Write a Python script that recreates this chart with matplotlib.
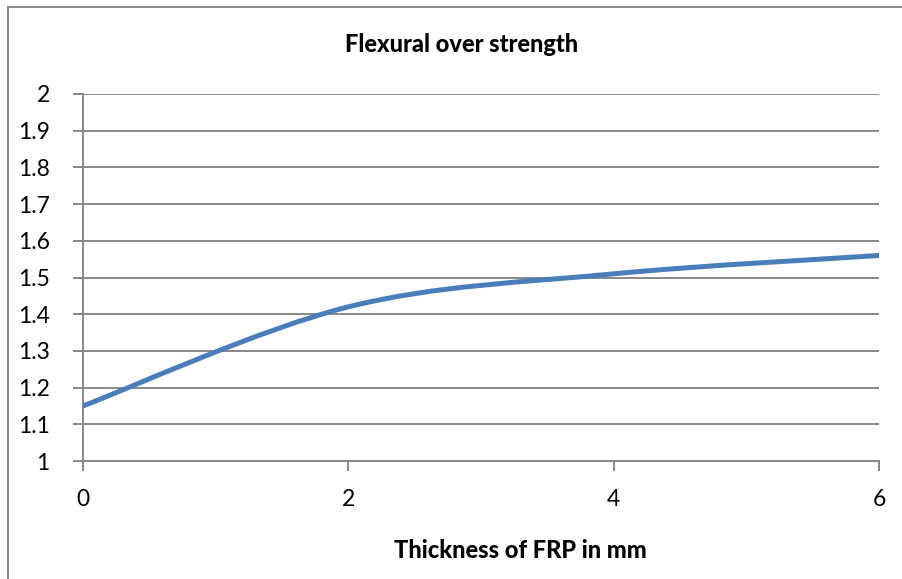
import numpy as np
import matplotlib
matplotlib.use("Agg")
from matplotlib import pyplot as plt
from matplotlib.path import Path
from matplotlib.patches import PathPatch
from matplotlib.lines import Line2D

# data
thickness = [0, 2, 4, 6]
strength = [1.15, 1.42, 1.51, 1.56]
xticks = [0, 2, 4, 6]
yticks = [1, 1.1, 1.2, 1.3, 1.4, 1.5, 1.6, 1.7, 1.8, 1.9, 2]

plt.rcParams['font.family'] = ['Lato', 'DejaVu Sans']

fig = plt.figure(figsize=(9.02, 5.79), dpi=100)
ax = fig.add_axes([83/902, 1-461/579, (879-83)/902, (461-94)/579])

# smoothed line like the spreadsheet one (bezier through the points)
pts = np.column_stack([thickness, strength]).astype(float)
n = len(pts)
verts = [pts[0]]
codes = [Path.MOVETO]
for i in range(n-1):
    p_prev = pts[max(i-1, 0)]
    p0 = pts[i]
    p1 = pts[i+1]
    p_next = pts[min(i+2, n-1)]
    c1 = p0 + (p1 - p_prev)/6
    c2 = p1 - (p_next - p0)/6
    verts += [c1, c2, p1]
    codes += [Path.CURVE4]*3
ax.add_patch(PathPatch(Path(verts, codes), facecolor='none', edgecolor='#4A7EBB',
                       lw=3.6, capstyle='round', joinstyle='round', zorder=3))

ax.set_xlim(0, 6)
ax.set_ylim(1, 2)
ax.set_xticks(xticks)
ax.set_xticklabels([str(v) for v in xticks])
ax.set_yticks(yticks)
ax.set_yticklabels(['1', '1.1', '1.2', '1.3', '1.4', '1.5', '1.6', '1.7', '1.8', '1.9', '2'])
ax.grid(axis='y', color='#888888', lw=1.4)
ax.set_axisbelow(True)
for s in ['top', 'right']:
    ax.spines[s].set_visible(False)
for s in ['left', 'bottom']:
    ax.spines[s].set_color('#888888')
    ax.spines[s].set_linewidth(1.4)
ax.tick_params(axis='both', colors='#888888', labelcolor='black', labelsize=16.5,
               length=7, width=1.4, direction='out')
ax.tick_params(axis='y', pad=17)
ax.tick_params(axis='x', pad=13)

fig.text(462/902, 1-45/579, 'Flexural over strength', ha='center', va='center',
         fontsize=17, fontweight='black')
fig.text(520/902, 1-551/579, 'Thickness of FRP in mm', ha='center', va='center',
         fontsize=17, fontweight='black')

# outer chart border (left and top only visible)
fig.add_artist(Line2D([8/902, 8/902], [0, 1-7/579], transform=fig.transFigure,
                      color='#888888', lw=1.4))
fig.add_artist(Line2D([8/902, 1], [1-7/579, 1-7/579], transform=fig.transFigure,
                      color='#888888', lw=1.4))

fig.savefig('out.png', dpi=100)
